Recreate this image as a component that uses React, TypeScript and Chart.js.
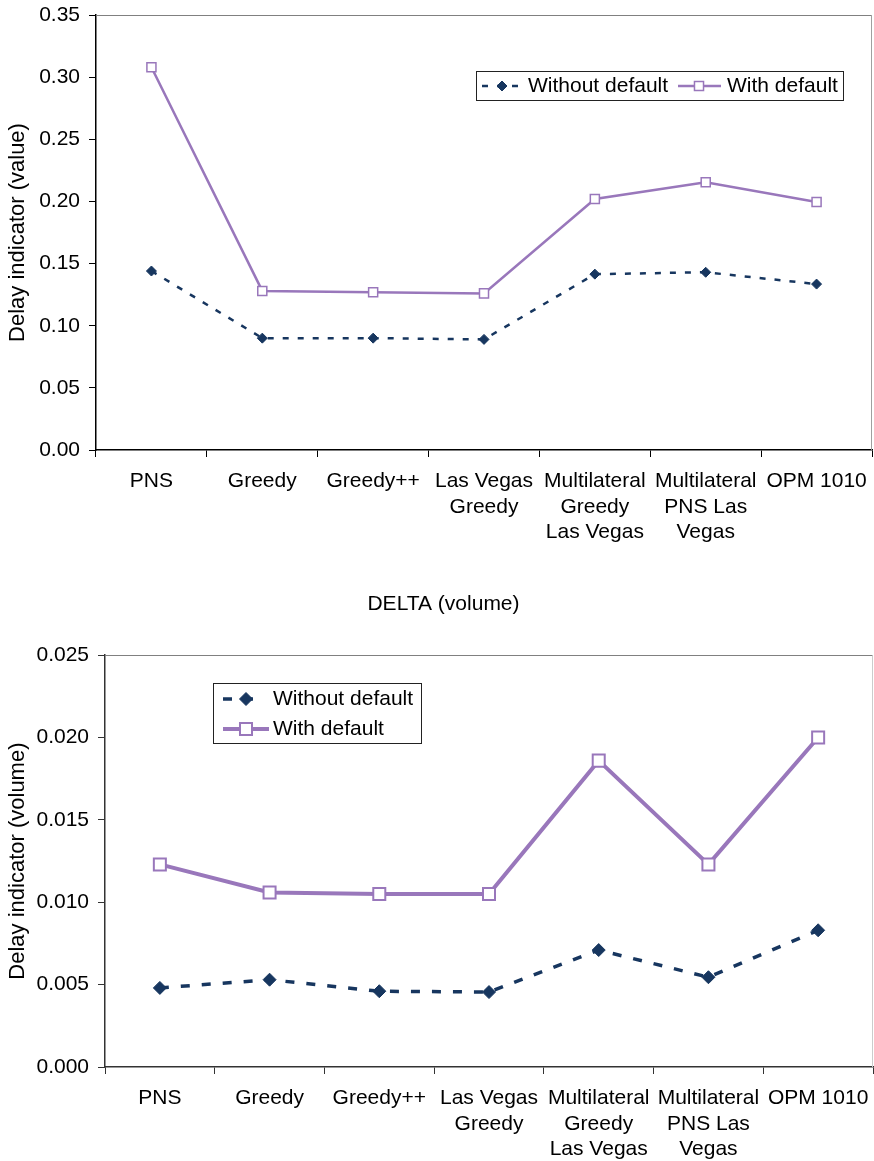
import React, { useEffect, useRef } from "react";
import { Chart, registerables } from "chart.js";

Chart.register(...registerables);

// ---------- data ----------
const categories: string[][] = [
  ["PNS"],
  ["Greedy"],
  ["Greedy++"],
  ["Las Vegas", "Greedy"],
  ["Multilateral", "Greedy", "Las Vegas"],
  ["Multilateral", "PNS Las", "Vegas"],
  ["OPM 1010"],
];
const seriesLabels = ["Without default", "With default"];

const valueWithoutDefault = [0.144, 0.09, 0.09, 0.089, 0.1415, 0.143, 0.1335];
const valueWithDefault = [0.308, 0.128, 0.127, 0.126, 0.202, 0.2155, 0.1995];

const volumeWithoutDefault = [0.0048, 0.0053, 0.0046, 0.00455, 0.0071, 0.00545, 0.0083];
const volumeWithDefault = [0.0123, 0.0106, 0.0105, 0.0105, 0.0186, 0.0123, 0.02];

const valueAxisMax = 0.35;
const valueAxisStep = 0.05;
const volumeAxisMax = 0.025;
const volumeAxisStep = 0.005;

const valueAxisTitle = "Delay indicator (value)";
const volumeAxisTitle = "Delay indicator (volume)";
const volumeChartTitle = "DELTA (volume)";

// ---------- styles ----------
const NAVY = "#17365F";
const PURPLE = "#9977BB";
const FONT = "'Liberation Sans', Arial, Helvetica, sans-serif";

function drawMarker(
  ctx: CanvasRenderingContext2D,
  style: string,
  x: number,
  y: number,
  r: number,
  fill: string,
  stroke: string,
  lw: number
) {
  ctx.save();
  ctx.beginPath();
  if (style === "rectRot") {
    ctx.moveTo(x, y - r);
    ctx.lineTo(x + r, y);
    ctx.lineTo(x, y + r);
    ctx.lineTo(x - r, y);
    ctx.closePath();
  } else {
    const s = Math.SQRT1_2 * r;
    ctx.rect(x - s, y - s, 2 * s, 2 * s);
  }
  ctx.fillStyle = fill;
  ctx.fill();
  ctx.lineWidth = lw;
  ctx.strokeStyle = stroke;
  ctx.stroke();
  ctx.restore();
}

type LegendItem = { x0: number; x1: number; mx: number; y: number; tx: number };
type LegendLayout = { x: number; y: number; w: number; h: number; items: LegendItem[] };

function makeLegendPlugin(layout: LegendLayout) {
  return {
    id: "boxLegend",
    afterDraw(chart: any) {
      const ctx: CanvasRenderingContext2D = chart.ctx;
      ctx.save();
      ctx.fillStyle = "#fff";
      ctx.fillRect(layout.x, layout.y, layout.w, layout.h);
      ctx.strokeStyle = "#222";
      ctx.lineWidth = 1;
      ctx.strokeRect(layout.x + 0.5, layout.y + 0.5, layout.w, layout.h);
      chart.data.datasets.forEach((ds: any, i: number) => {
        const it = layout.items[i];
        ctx.strokeStyle = ds.borderColor;
        ctx.lineWidth = ds.borderWidth;
        ctx.setLineDash(ds.borderDash || []);
        ctx.beginPath();
        ctx.moveTo(it.x0, it.y);
        ctx.lineTo(it.x1, it.y);
        ctx.stroke();
        ctx.setLineDash([]);
        drawMarker(
          ctx,
          ds.pointStyle,
          it.mx,
          it.y,
          ds.pointRadius,
          ds.pointBackgroundColor,
          ds.pointBorderColor,
          ds.pointBorderWidth
        );
        ctx.fillStyle = "#000";
        ctx.font = `21px ${FONT}`;
        ctx.textBaseline = "middle";
        ctx.textAlign = "left";
        ctx.fillText(ds.label, it.tx, it.y);
      });
      ctx.restore();
    },
  };
}

function makeFramePlugin(topColor: string, rightColor: string) {
  return {
    id: "frameLines",
    beforeDatasetsDraw(chart: any) {
      const { ctx, chartArea } = chart;
      const { left, right, top, bottom } = chartArea;
      ctx.save();
      ctx.lineWidth = 1;
      ctx.strokeStyle = topColor;
      ctx.beginPath();
      ctx.moveTo(left, Math.round(top) + 0.5);
      ctx.lineTo(right, Math.round(top) + 0.5);
      ctx.stroke();
      ctx.strokeStyle = rightColor;
      ctx.beginPath();
      ctx.moveTo(Math.round(right) - 0.5, top);
      ctx.lineTo(Math.round(right) - 0.5, bottom);
      ctx.stroke();
      ctx.restore();
    },
  };
}

function clearPadding(scale: any) {
  scale.paddingTop = 0;
  scale.paddingBottom = 0;
  scale.paddingLeft = 0;
  scale.paddingRight = 0;
}

function buildConfig(opts: {
  without: number[];
  withD: number[];
  max: number;
  step: number;
  decimals: number;
  axisTitle: string;
  axisTitlePad: number;
  yWidth: number;
  xHeight: number;
  padding: any;
  title?: any;
  thick: boolean;
  axisColor: string;
  legend: LegendLayout;
  frameTop: string;
  frameRight: string;
}): any {
  const tickFont = { family: FONT, size: 21 };
  return {
    type: "line",
    data: {
      labels: categories,
      datasets: [
        {
          label: seriesLabels[0],
          data: opts.without,
          borderColor: NAVY,
          backgroundColor: NAVY,
          borderWidth: opts.thick ? 3.5 : 2.5,
          borderDash: opts.thick ? [9, 12] : [6, 9],
          pointStyle: "rectRot",
          pointRadius: opts.thick ? 6.5 : 5,
          pointHoverRadius: opts.thick ? 6.5 : 5,
          pointBackgroundColor: NAVY,
          pointBorderColor: NAVY,
          pointBorderWidth: 1,
          tension: 0,
          fill: false,
        },
        {
          label: seriesLabels[1],
          data: opts.withD,
          borderColor: PURPLE,
          backgroundColor: "#fff",
          borderWidth: opts.thick ? 4 : 2.5,
          pointStyle: "rect",
          pointRadius: opts.thick ? 8.5 : 6.4,
          pointHoverRadius: opts.thick ? 8.5 : 6.4,
          pointBackgroundColor: "#fff",
          pointBorderColor: PURPLE,
          pointBorderWidth: opts.thick ? 2 : 1.5,
          tension: 0,
          fill: false,
        },
      ],
    },
    options: {
      responsive: false,
      animation: false,
      devicePixelRatio: 1,
      layout: { padding: opts.padding, autoPadding: false },
      plugins: {
        legend: { display: false },
        tooltip: { enabled: false },
        title: opts.title || { display: false },
      },
      scales: {
        x: {
          type: "category",
          offset: true,
          grid: {
            offset: true,
            drawOnChartArea: false,
            drawTicks: true,
            tickLength: 7,
            color: opts.axisColor,
            tickColor: opts.axisColor,
          },
          border: { display: true, color: opts.axisColor, width: 1.5 },
          ticks: {
            font: tickFont,
            color: "#000",
            padding: 12,
            autoSkip: false,
            maxRotation: 0,
            minRotation: 0,
          },
          afterFit(scale: any) {
            scale.height = opts.xHeight;
            clearPadding(scale);
          },
        },
        y: {
          type: "linear",
          min: 0,
          max: opts.max,
          grid: {
            drawOnChartArea: false,
            drawTicks: true,
            tickLength: 7,
            color: opts.axisColor,
            tickColor: opts.axisColor,
          },
          border: { display: true, color: opts.axisColor, width: 1.5 },
          ticks: {
            stepSize: opts.step,
            font: tickFont,
            color: "#000",
            padding: 9,
            callback: (v: any) => Number(v).toFixed(opts.decimals),
          },
          title: {
            display: true,
            text: opts.axisTitle,
            font: { family: FONT, size: 22 },
            color: "#000",
            padding: { top: opts.axisTitlePad, bottom: 0 },
          },
          afterFit(scale: any) {
            scale.width = opts.yWidth;
            clearPadding(scale);
          },
        },
      },
    },
    plugins: [
      makeFramePlugin(opts.frameTop, opts.frameRight),
      makeLegendPlugin(opts.legend),
    ],
  };
}

export default function App() {
  const topRef = useRef<HTMLCanvasElement | null>(null);
  const bottomRef = useRef<HTMLCanvasElement | null>(null);

  useEffect(() => {
    const topChart = new Chart(
      topRef.current as HTMLCanvasElement,
      buildConfig({
        without: valueWithoutDefault,
        withD: valueWithDefault,
        max: valueAxisMax,
        step: valueAxisStep,
        decimals: 2,
        axisTitle: valueAxisTitle,
        axisTitlePad: 5,
        yWidth: 96,
        xHeight: 110,
        padding: { top: 15, right: 2, left: 0, bottom: 0 },
        thick: false,
        axisColor: "#000",
        legend: {
          x: 476,
          y: 71,
          w: 367,
          h: 29,
          items: [
            { x0: 482, x1: 518, mx: 502, y: 86, tx: 528 },
            { x0: 678, x1: 721, mx: 699, y: 86, tx: 727 },
          ],
        },
        frameTop: "#808080",
        frameRight: "#a0a0a0",
      })
    );
    const bottomChart = new Chart(
      bottomRef.current as HTMLCanvasElement,
      buildConfig({
        without: volumeWithoutDefault,
        withD: volumeWithDefault,
        max: volumeAxisMax,
        step: volumeAxisStep,
        decimals: 3,
        axisTitle: volumeAxisTitle,
        axisTitlePad: -9,
        yWidth: 91,
        xHeight: 94,
        padding: { top: 0, right: 1, left: 14, bottom: 0 },
        title: {
          display: true,
          text: volumeChartTitle,
          font: { family: FONT, size: 21, weight: "normal" },
          color: "#000",
          padding: { top: 32, bottom: 38 },
        },
        thick: true,
        axisColor: "#333",
        legend: {
          x: 213,
          y: 123,
          w: 208,
          h: 60,
          items: [
            { x0: 223, x1: 256, mx: 246, y: 139, tx: 273 },
            { x0: 223, x1: 269, mx: 246, y: 169, tx: 273 },
          ],
        },
        frameTop: "#808080",
        frameRight: "#cccccc",
      })
    );
    return () => {
      topChart.destroy();
      bottomChart.destroy();
    };
  }, []);

  return (
    <div
      style={{
        position: "absolute",
        left: 0,
        top: 0,
        width: 874,
        height: 1161,
        background: "#fff",
        overflow: "hidden",
      }}
    >
      <div style={{ position: "absolute", left: 0, top: 0, width: 874, height: 560 }}>
        <canvas ref={topRef} width={874} height={560} />
      </div>
      <div style={{ position: "absolute", left: 0, top: 560, width: 874, height: 601 }}>
        <canvas ref={bottomRef} width={874} height={601} />
      </div>
    </div>
  );
}
